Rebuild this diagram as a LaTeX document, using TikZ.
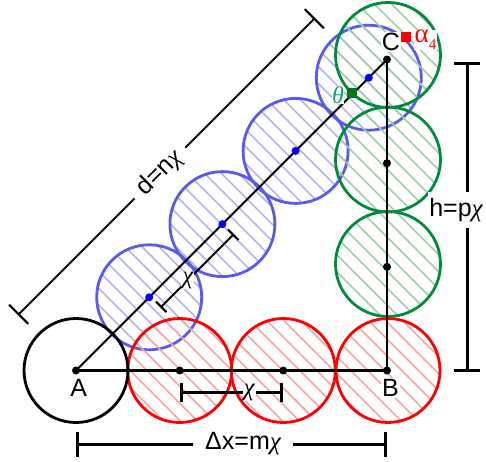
\documentclass[tikz,border=0pt]{standalone}
\usepackage{fontspec}
\setmainfont{Liberation Sans}
\newfontfamily\symf{Liberation Serif}
\usetikzlibrary{patterns.meta,arrows.meta}
\definecolor{hred}{RGB}{245,165,165}
\definecolor{myblue}{RGB}{90,90,240}
\definecolor{hblue}{RGB}{180,180,235}
\definecolor{mygreen}{RGB}{0,140,60}
\definecolor{hgreen}{RGB}{160,205,170}
\definecolor{thetagreen}{RGB}{20,160,110}
\definecolor{sqgreen}{RGB}{0,120,20}
\newcommand{\chis}{{\symf\itshape χ}}
\begin{document}
\begin{tikzpicture}[x=1pt,y=-1pt,
  ball/.style={line width=2.8pt},
  hatch/.style={pattern={Lines[angle=-45,distance=12pt,line width=1.6pt]}},
  redball/.style={ball,draw=red,hatch,pattern color=hred},
  blueball/.style={ball,draw=myblue,hatch,pattern color=hblue},
  greenball/.style={ball,draw=mygreen,hatch,pattern color=hgreen},
  dot/.style={circle,fill=black,inner sep=0pt,minimum size=8pt},
  bdot/.style={circle,fill=blue,inner sep=0pt,minimum size=8pt},
  lab/.style={font=\fontsize{25}{28}\selectfont, inner sep=1pt},
  wlab/.style={lab,fill=white},
  dimthick/.style={line width=3pt},
  dimthin/.style={line width=2pt},
]
\useasboundingbox (0,0) rectangle (486,461);
% centres
\coordinate (A) at (76,370.5);
\coordinate (B) at (387,370.5);
\coordinate (C) at (387,59.5);
\coordinate (r1) at (179.7,370.5);
\coordinate (r2) at (283.3,370.5);
\coordinate (g2) at (387,163.2);
\coordinate (g1) at (387,266.8);
\coordinate (b1) at (149.2,297.3);
\coordinate (b2) at (222.4,224.1);
\coordinate (b3) at (295.6,150.9);
\coordinate (b4) at (368.8,77.7);
% blue balls
\foreach \p in {b1,b2,b3,b4} \draw[blueball] (\p) circle[radius=52.5];
% green balls
\draw[greenball] (388,264) circle[radius=52.5];
\draw[greenball] (388,159.5) circle[radius=52.5];
\draw[greenball] (388,55) circle[radius=52.5];
% red balls
\draw[redball] (179.7,370.5) circle[radius=52];
\draw[redball] (283.3,370.5) circle[radius=52];
\draw[redball] (388,370.5) circle[radius=52];
% black ball
\draw[ball,draw=black] (A) circle[radius=52];
% main lines
\draw[line width=2.7pt] (A) -- (B) -- (C);
\draw[line width=1.8pt] (A) -- (C);
% dots
\foreach \p in {A,B,C,r1,r2,g1,g2} \node[dot] at (\p) {};
\foreach \p in {b1,b2,b3,b4} \node[bdot] at (\p) {};
% markers
\node[fill=sqgreen,inner sep=0pt,minimum size=10pt] (thsq) at (351.7,93.3) {};
\node[fill=red,inner sep=0pt,minimum size=10pt] (alsq) at (406,37) {};
\node[lab,fill=white,inner sep=0.5pt,text=thetagreen,font=\fontsize{24}{26}\selectfont\symf\itshape] (th) at (338,95) {θ};
\node[fill=white,inner sep=0.5pt,text=red,anchor=west] (al) at (414,40) {{\symf\fontsize{27}{30}\selectfont α}\raisebox{-7pt}{\symf\fontsize{15}{16}\selectfont 4}};
% point labels
\node[lab] (lA) at (78.7,388) {A};
\node[wlab] (lB) at (390.5,388) {B};
\node[wlab] (lC) at (391,41.7) {C};
% d dimension
\coordinate (d1) at (18,315);
\coordinate (d2) at (315,18);
\draw[dimthin,{Bar[width=27pt]}-{Bar[width=27pt]}] (d1) -- (d2)
  node[wlab,sloped,pos=0.478,inner xsep=9pt,inner ysep=2pt] (ld) {d=n\chis};
% blue chi
\coordinate (bc1) at (160.5,307.5);
\coordinate (bc2) at (234,234);
\draw[dimthin,{Bar[width=15pt]}-{Bar[width=15pt]}] (bc1) -- (bc2)
  node[wlab,pos=0.374,inner sep=1pt] (lbc) {\chis};
% red chi
\coordinate (rc1) at (180,392);
\coordinate (rc2) at (283,392);
\draw[dimthick,{Bar[width=19pt]}-{Bar[width=19pt]}] (rc1) -- (rc2)
  node[wlab,pos=0.67,inner xsep=1pt] (lrc) {\chis};
% delta x
\coordinate (x1) at (76,444);
\coordinate (x2) at (387,444);
\draw[dimthick,{Bar[width=25pt]}-{Bar[width=25pt]}] (x1) -- (x2)
  node[wlab,pos=0.537,inner xsep=12pt] (lx) {Δx=m\chis};
% h
\coordinate (h1) at (467,61.5);
\coordinate (h2) at (467,371.5);
\draw[dimthick,{Bar[width=26pt]}-{Bar[width=26pt]}] (h1) -- (h2);
\node[wlab,inner ysep=6pt,inner xsep=1pt] (lh) at (456,210) {h=p\chis};
\end{tikzpicture}
\end{document}
